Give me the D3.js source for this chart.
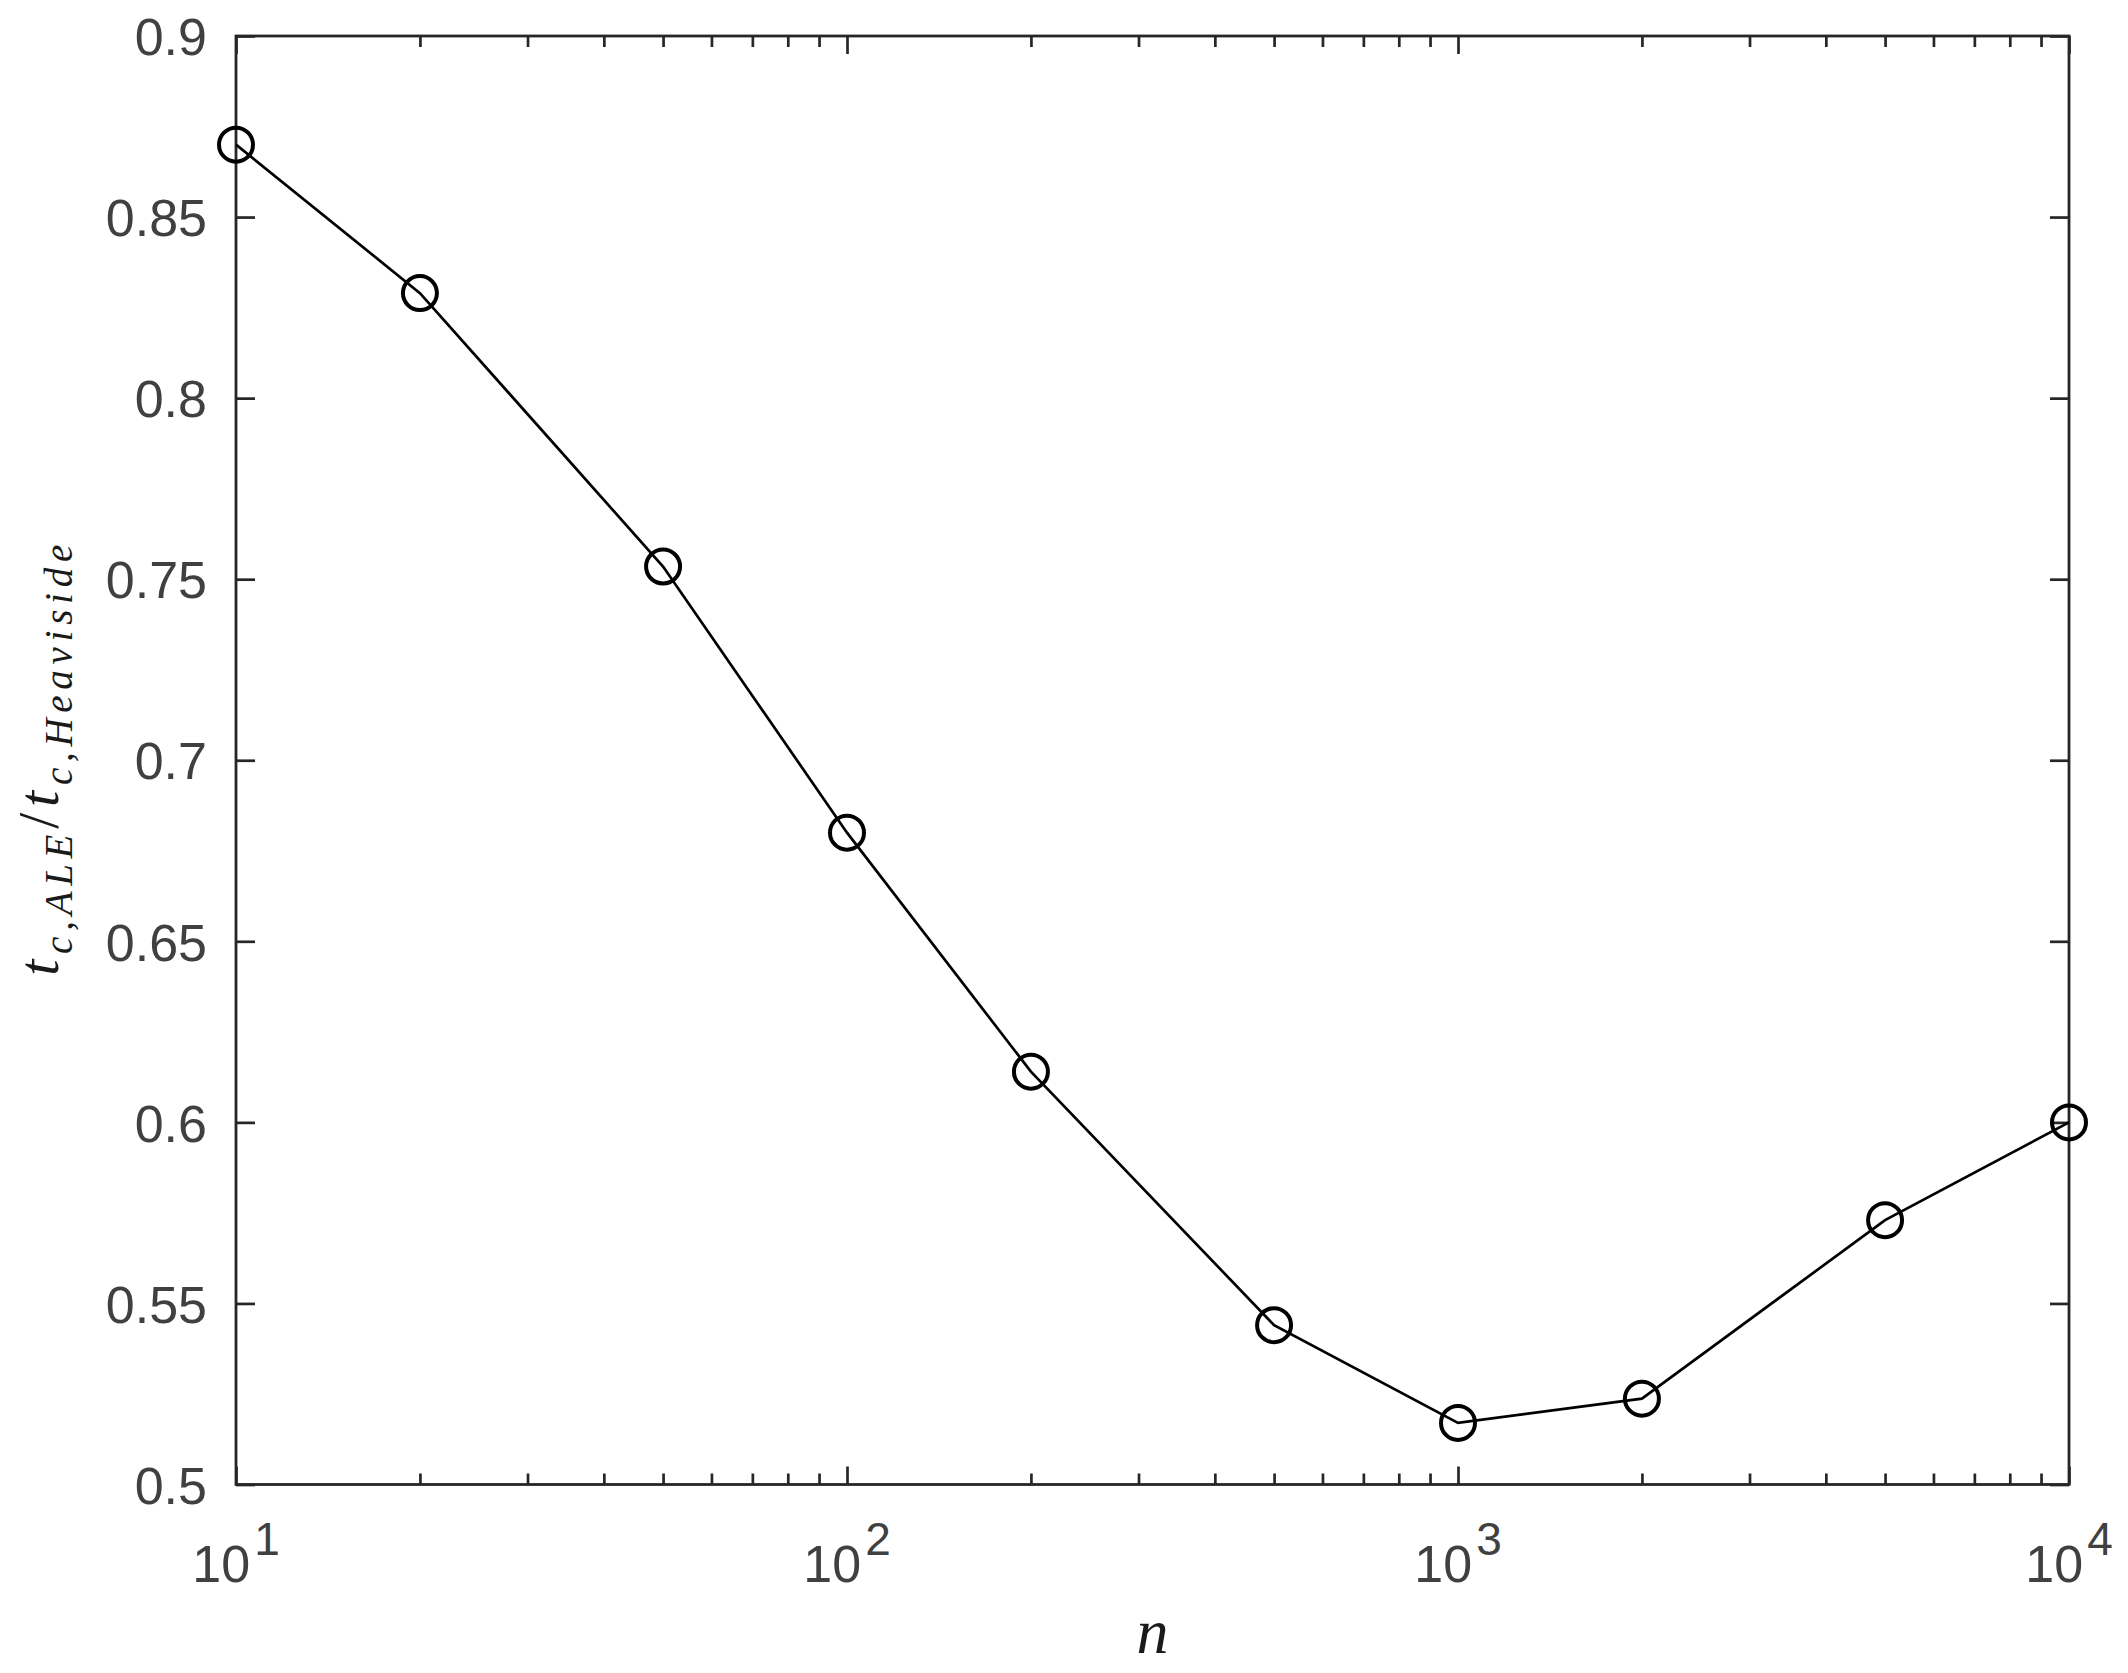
<!DOCTYPE html>
<html lang="en">
<head>
<meta charset="utf-8">
<title>t_c ratio vs n</title>
<script src="https://cdn.jsdelivr.net/npm/d3@7"></script>
<style>
  body { margin: 0; background: #ffffff; }
  .tick text { font-family: "Liberation Sans", Arial, sans-serif; font-size: 52px; fill: #404040; }
  .tick line { stroke: #262626; stroke-width: 2.7px; }
  .domain { display: none; }
</style>
</head>
<body>
<script>
// data
var nValues = [10, 20, 50, 100, 200, 500, 1000, 2000, 5000, 10000];
var ratioValues = [0.870, 0.829, 0.7535, 0.680, 0.614, 0.544, 0.517, 0.5237, 0.573, 0.600];

var yTicks = [0.5, 0.55, 0.6, 0.65, 0.7, 0.75, 0.8, 0.85, 0.9];
var yTickLabels = ["0.5", "0.55", "0.6", "0.65", "0.7", "0.75", "0.8", "0.85", "0.9"];
var xTicks = [10, 100, 1000, 10000];
var xTickBase = ["10", "10", "10", "10"];
var xTickExp = ["1", "2", "3", "4"];

var W = 2128, H = 1673;
var axLeft = 236, axRight = 2069, axTop = 36, axBottom = 1484.5;

var svg = d3.select("body").append("svg")
  .attr("width", W)
  .attr("height", H);

var x = d3.scaleLog().domain([10, 10000]).range([axLeft, axRight]);
var y = d3.scaleLinear().domain([0.5, 0.9]).range([axBottom, axTop]);

// minor ticks 2..9 in each decade
var minorTicks = [];
for (var k = 1; k < 4; k++) {
  for (var m = 2; m <= 9; m++) minorTicks.push(m * Math.pow(10, k));
}

// axes (ticks point inward)
svg.append("g").attr("transform", "translate(0," + axBottom + ")")
  .call(d3.axisBottom(x).tickValues(xTicks).tickSize(-18).tickSizeOuter(0).tickFormat(""));
svg.append("g").attr("transform", "translate(0," + axBottom + ")")
  .call(d3.axisBottom(x).tickValues(minorTicks).tickSize(-11).tickSizeOuter(0).tickFormat(""));
svg.append("g").attr("transform", "translate(0," + axTop + ")")
  .call(d3.axisTop(x).tickValues(xTicks).tickSize(-18).tickSizeOuter(0).tickFormat(""));
svg.append("g").attr("transform", "translate(0," + axTop + ")")
  .call(d3.axisTop(x).tickValues(minorTicks).tickSize(-11).tickSizeOuter(0).tickFormat(""));

svg.append("g").attr("transform", "translate(" + axLeft + ",0)")
  .call(d3.axisLeft(y).tickValues(yTicks).tickSize(-19).tickSizeOuter(0).tickPadding(29)
    .tickFormat(function(d, i) { return yTickLabels[i]; }))
  .selectAll("text").attr("dy", "0.36em");
svg.append("g").attr("transform", "translate(" + axRight + ",0)")
  .call(d3.axisRight(y).tickValues(yTicks).tickSize(-19).tickSizeOuter(0).tickFormat(""));

// box
svg.append("rect")
  .attr("x", axLeft).attr("y", axTop)
  .attr("width", axRight - axLeft).attr("height", axBottom - axTop)
  .attr("fill", "none").attr("stroke", "#262626").attr("stroke-width", 2.8);

// x tick labels 10^k
var xl = svg.selectAll(".xlab").data(xTicks).enter().append("text")
  .attr("class", "xlab")
  .attr("x", function(d) { return x(d); })
  .attr("y", axBottom + 97.5)
  .attr("text-anchor", "middle")
  .attr("font-family", "Liberation Sans, Arial, sans-serif")
  .attr("fill", "#404040");
xl.append("tspan").attr("font-size", "52px").text(function(d, i) { return xTickBase[i]; });
xl.append("tspan").attr("font-size", "46px").attr("dy", -27).attr("dx", 4)
  .text(function(d, i) { return xTickExp[i]; });

// x label
svg.append("text")
  .attr("x", (axLeft + axRight) / 2)
  .attr("y", 1653)
  .attr("text-anchor", "middle")
  .attr("font-family", "Liberation Serif, Times New Roman, serif")
  .attr("font-style", "italic")
  .attr("font-size", "64px")
  .attr("fill", "#1a1a1a")
  .text("n");

// y label t_{c,ALE}/t_{c,Heaviside}
var yl = svg.append("text")
  .attr("transform", "translate(58," + ((axTop + axBottom) / 2) + ") rotate(-90)")
  .attr("text-anchor", "middle")
  .attr("font-family", "Liberation Serif, Times New Roman, serif")
  .attr("font-style", "italic")
  .attr("fill", "#1a1a1a");
yl.append("tspan").attr("font-size", "58px").text("t");
yl.append("tspan").attr("font-size", "39px").attr("dy", 14).text("c,ALE");
yl.append("tspan").attr("font-size", "58px").attr("dy", -14).attr("font-style", "normal").text("/");
yl.append("tspan").attr("font-size", "58px").text("t");
yl.append("tspan").attr("font-size", "39px").attr("dy", 14).text("c,Heaviside");
yl.attr("textLength", 431).attr("lengthAdjust", "spacing");

// data line
var line = d3.line()
  .x(function(d) { return x(d[0]); })
  .y(function(d) { return y(d[1]); });

var pts = nValues.map(function(n, i) { return [n, ratioValues[i]]; });

svg.append("path")
  .datum(pts)
  .attr("d", line)
  .attr("fill", "none")
  .attr("stroke", "#000000")
  .attr("stroke-width", 2.7);

svg.selectAll(".mk").data(pts).enter().append("circle")
  .attr("class", "mk")
  .attr("cx", function(d) { return x(d[0]); })
  .attr("cy", function(d) { return y(d[1]); })
  .attr("r", 17)
  .attr("fill", "none")
  .attr("stroke", "#000000")
  .attr("stroke-width", 4);
</script>
</body>
</html>
